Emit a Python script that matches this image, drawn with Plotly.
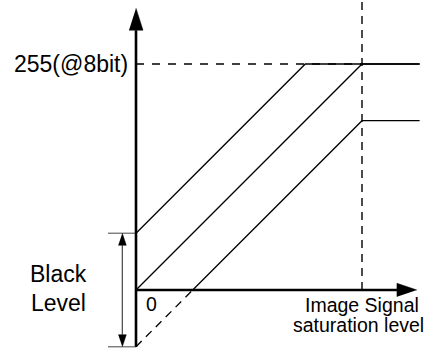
import plotly.graph_objects as go

# Output-level diagram values (8-bit scale)
full_scale = 255          # 255(@8bit)
black_level = 64          # black-level offset
saturation = 255          # image signal saturation level
signal_end = 320          # where the output curves stop on the right
line_offsets = [black_level, 0, -black_level]   # black level added / none / subtracted
axis_x_end = 317          # x-axis arrow tip
axis_y_end = 318          # y-axis arrow tip

W, H = 429, 349
K = 226 / 255             # pixels per data unit
X0_PX, Y0_PX = 136, 290   # pixel position of the origin

x_range = [-X0_PX / K, (W - X0_PX) / K]
y_range = [(Y0_PX - H) / K, Y0_PX / K]


def px(n):
    """Convert a pixel length to data units."""
    return n / K


FONT = "Arial, Liberation Sans, sans-serif"
fig = go.Figure()


def add_line(xs, ys, width=1.3, dash=None, color="black"):
    fig.add_trace(go.Scatter(
        x=xs, y=ys, mode="lines", hoverinfo="skip", showlegend=False,
        line=dict(color=color, width=width, dash=dash)))


def add_tri(xs, ys):
    fig.add_trace(go.Scatter(
        x=xs, y=ys, mode="lines", fill="toself", fillcolor="black",
        line=dict(color="black", width=0.5), hoverinfo="skip", showlegend=False))


DASH = "8px,8px"

# Reference dashed lines: full scale and saturation level
add_line([0, saturation], [full_scale, full_scale], width=1.4, dash=DASH)
add_line([saturation, saturation], [0, y_range[1]], width=1.4, dash="8px,6px")

# Output curves: slope 1, offset by the black level, clipped at full scale
for off in line_offsets:
    x_start = max(0, -off)
    x_sat = min(saturation, full_scale - off)
    if x_start > 0:
        # part of the curve below zero output (clipped), shown dashed
        add_line([0, x_start], [off, 0], width=1.3, dash="8px,6px")
    add_line([x_start, x_sat, signal_end], [x_start + off, x_sat + off, x_sat + off])

# Black level markers on the left
tick_len = px(28)
for yv in (black_level, -black_level):
    add_line([-tick_len, 0], [yv, yv], width=1.5, color="#808080")
arrow_x = px(122.3 - X0_PX)
head_l, head_w = px(12), px(4)
add_line([arrow_x, arrow_x], [-black_level + head_l, black_level - head_l], width=1.1, color="#333333")
add_tri([arrow_x - head_w, arrow_x + head_w, arrow_x],
        [black_level - head_l, black_level - head_l, black_level])
add_tri([arrow_x - head_w, arrow_x + head_w, arrow_x],
        [-black_level + head_l, -black_level + head_l, -black_level])

# Axes with arrowheads
y_head, y_hw = px(22), px(7)
x_head, x_hw = px(20), px(6.7)
add_line([0, 0], [-black_level, axis_y_end - y_head], width=2.6)
add_tri([-y_hw, y_hw, 0], [axis_y_end - y_head, axis_y_end - y_head, axis_y_end])
add_line([0, axis_x_end - x_head], [0, 0], width=2.6)
add_tri([axis_x_end - x_head, axis_x_end - x_head, axis_x_end], [-x_hw, x_hw, 0])


def label(text, x, y, size, xanchor="center"):
    fig.add_annotation(x=x, y=y, text=text, showarrow=False, xref="x", yref="y",
                       xanchor=xanchor, yanchor="middle",
                       font=dict(family=FONT, size=size, color="black"))


label("255(@8bit)", px(130 - X0_PX), full_scale, 23, xanchor="right")
label("Black", px(58 - X0_PX), px(Y0_PX - 274), 23)
label("Level", px(58 - X0_PX), px(Y0_PX - 302.5), 23)
label("0", px(151 - X0_PX), px(Y0_PX - 304), 19.5)
label("Image Signal", px(361.5 - X0_PX), px(Y0_PX - 305), 19.5)
label("saturation level", px(358 - X0_PX), px(Y0_PX - 325), 19.5)

fig.update_layout(
    width=W, height=H, margin=dict(l=0, r=0, t=0, b=0),
    paper_bgcolor="white", plot_bgcolor="white",
    xaxis=dict(range=x_range, visible=False, fixedrange=True),
    yaxis=dict(range=y_range, visible=False, fixedrange=True),
)

fig.write_html("out.html")
